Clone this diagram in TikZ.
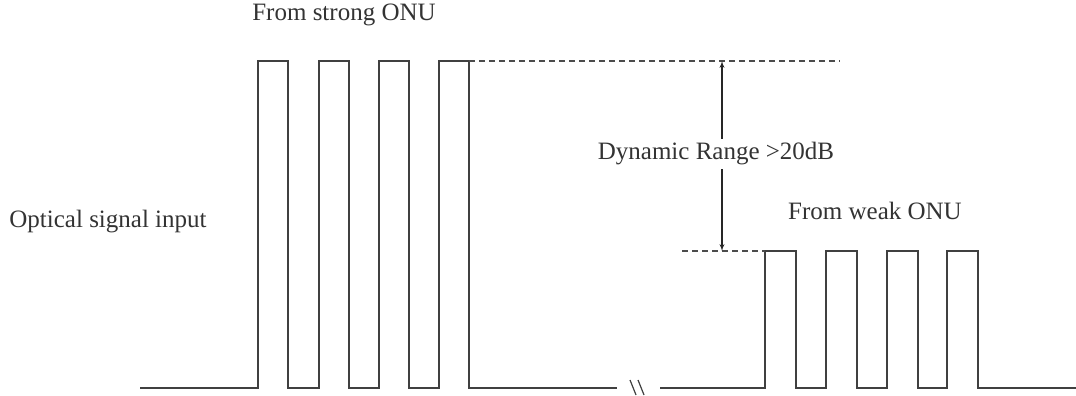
\documentclass[tikz,border=0pt]{standalone}
\usepackage{fontspec}
\setmainfont{Liberation Serif}
\usetikzlibrary{arrows}
\tikzstyle{signal} = [draw=black!75, line width=1.5pt]
\tikzstyle{levelline} = [draw=black!70, line width=1.2pt, dash pattern=on 6pt off 4pt]
\tikzstyle{labelWH} = [text=black!80, font=\fontsize{25}{29}\selectfont, inner sep=1pt]
\tikzstyle{line} = [draw=black!85, line width=1.3pt, latex'-latex']

\begin{document}
\begin{tikzpicture}[x=1pt, y=-1pt]
  \useasboundingbox (0,0) rectangle (1076,396);

  % strong and weak bursts
  \draw [signal] (140,388) foreach \x in {258,319,379,439} { -- (\x,388) -- (\x,61) -- (\x+30,61) -- (\x+30,388) } -- (617,388);
  \draw [signal] (660,388) foreach \x in {765,826,887,947} { -- (\x,388) -- (\x,251) -- (\x+31,251) -- (\x+31,388) } -- (1076,388);

  % break mark
  \draw [signal, line width=1.2pt] (630,380) -- (636,395) (638,380) -- (644,395);

  % levels
  \draw [levelline] (469,61) -- (840,61);
  \draw [levelline] (682,251) -- (765,251);

  % nodes
  \coordinate (strong_lvl) at (722,61);
  \coordinate (weak_lvl) at (722,251);
  \node [labelWH] (strong_txt) at (344,15) {From strong ONU};
  \node [labelWH] (input_txt) at (108,222) {Optical signal input};
  \node [labelWH] (weak_txt) at (875,211) {From weak ONU};

  % edges
  \path [line] (strong_lvl) -- (weak_lvl);
  \node [labelWH, fill=white, inner sep=4pt] (range_txt) at (716,154) {Dynamic Range >20dB};
\end{tikzpicture}
\end{document}
